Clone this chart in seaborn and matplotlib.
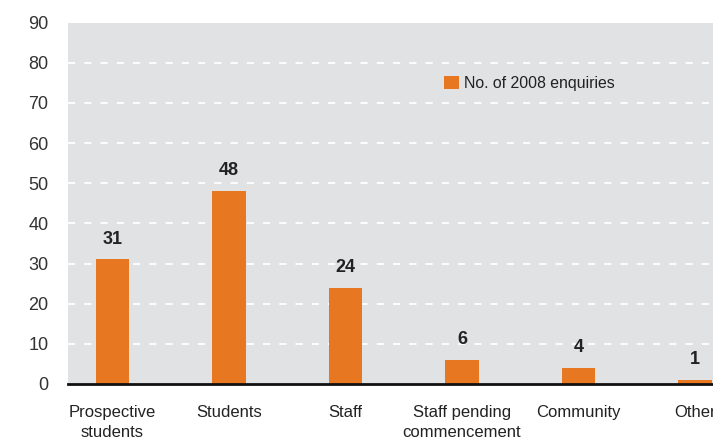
import matplotlib
matplotlib.use("Agg")
import matplotlib.pyplot as plt
import seaborn as sns

categories = ["Prospective\nstudents", "Students", "Staff",
              "Staff pending\ncommencement", "Community", "Other"]
enquiries = [31, 48, 24, 6, 4, 1]
series_label = "No. of 2008 enquiries"
y_ticks = [0, 10, 20, 30, 40, 50, 60, 70, 80, 90]

ORANGE = "#E87722"
PANEL = "#E1E2E4"
TEXT = "#222222"

sns.set_theme(style="white")
plt.rcParams["font.family"] = ["Liberation Sans", "DejaVu Sans"]

fig = plt.figure(figsize=(7.13, 4.41), dpi=100)
ax = fig.add_axes([68 / 713, 57 / 441, 645 / 713, 361.5 / 441])
ax.set_facecolor(PANEL)

sns.barplot(x=categories, y=enquiries, color=ORANGE, width=0.285,
            saturation=1, linewidth=0, label=series_label, ax=ax)

ax.set_xlim(-0.382, 5.155)
ax.set_ylim(0, 90)
ax.set_yticks(y_ticks)
ax.set_yticklabels([str(t) for t in y_ticks], fontsize=13, color="#333333")
ax.tick_params(axis="y", length=0, pad=14)
ax.tick_params(axis="x", length=0, pad=15, labelsize=12, labelcolor=TEXT)
for lbl in ax.get_xticklabels():
    lbl.set_linespacing(1.4)

for t in y_ticks[1:-1]:
    ax.axhline(t, color="white", lw=1.3, dashes=(4, 5), zorder=0.5)

for s in ["top", "right", "left"]:
    ax.spines[s].set_visible(False)
ax.spines["bottom"].set_color("#111111")
ax.spines["bottom"].set_linewidth(2)
ax.spines["bottom"].set_zorder(5)

for i, v in enumerate(enquiries):
    ax.annotate(str(v), (i, v), xytext=(0, 8.5), textcoords="offset points",
                ha="center", va="bottom", fontsize=13, fontweight="bold",
                color=TEXT)

ax.set_xlabel("")
ax.set_ylabel("")
leg = ax.legend(loc="upper left", bbox_to_anchor=(0.571, 0.875), frameon=False,
                borderpad=0, handlelength=0.95, handleheight=0.95,
                handletextpad=0.3, fontsize=11.4)
for txt in leg.get_texts():
    txt.set_color(TEXT)

fig.savefig("out.png", dpi=100, facecolor="white")
